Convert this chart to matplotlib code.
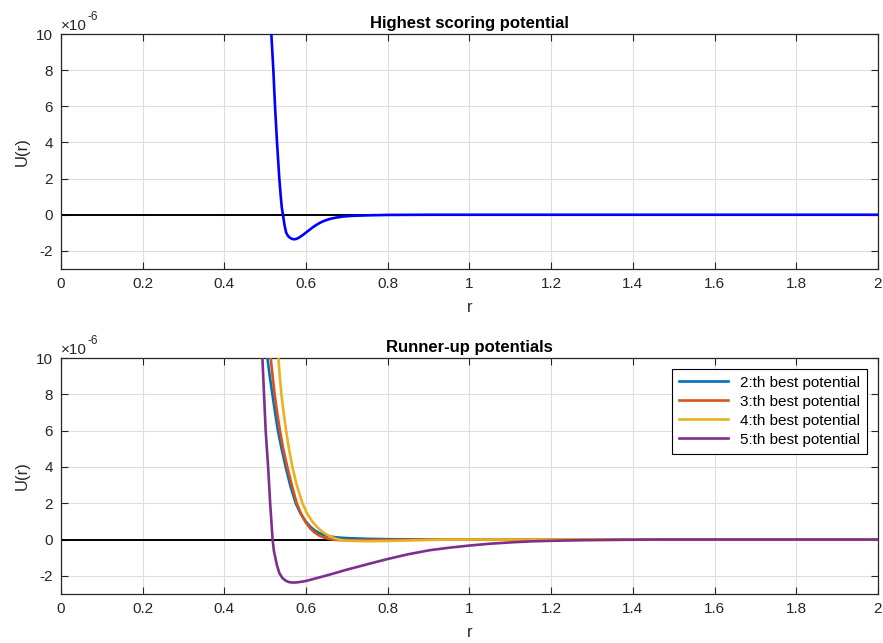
#!/usr/bin/env python3
"""
Potenciais: melhor potencial e os seguintes (estilo MATLAB)
"""

import matplotlib
matplotlib.use("Agg")
import matplotlib.pyplot as plt

ESCALA = 1e-6

# melhor potencial (valores em unidades de 1e-6)
r_melhor = [0.512, 0.5149, 0.5198, 0.5239, 0.5288, 0.5344, 0.538, 0.5405, 0.544,
            0.547, 0.551, 0.555, 0.559, 0.565, 0.571, 0.577, 0.583, 0.592, 0.600,
            0.608, 0.616, 0.624, 0.632, 0.640, 0.649, 0.660, 0.673, 0.690, 0.714,
            0.755, 0.800, 0.900, 1.000, 1.500, 2.000]
u_melhor = [11.0, 10.0, 8.0, 6.0, 4.0, 2.0, 1.0, 0.4, -0.1,
            -0.55, -0.98, -1.15, -1.25, -1.33, -1.36, -1.33, -1.26, -1.12, -0.98,
            -0.84, -0.70, -0.58, -0.47, -0.38, -0.30, -0.22, -0.16, -0.10, -0.06,
            -0.03, -0.01, 0.0, 0.0, 0.0, 0.0]

# potenciais seguintes
r_2 = [0.5035, 0.5053, 0.511, 0.5175, 0.524, 0.531, 0.540, 0.550, 0.561, 0.5746,
       0.586, 0.599, 0.610, 0.620, 0.632, 0.644, 0.660, 0.680, 0.700, 0.750,
       0.800, 0.900, 1.000, 1.500, 2.000]
u_2 = [11.0, 10.0, 9.0, 8.0, 7.0, 6.0, 5.0, 4.0, 3.0, 2.0,
       1.45, 1.0, 0.72, 0.52, 0.36, 0.25, 0.16, 0.11, 0.08, 0.04,
       0.02, 0.005, 0.0, 0.0, 0.0]

r_3 = [0.511, 0.5134, 0.518, 0.523, 0.529, 0.536, 0.544, 0.554, 0.565, 0.577,
       0.588, 0.599, 0.610, 0.620, 0.632, 0.645, 0.655, 0.665, 0.680, 0.700,
       0.750, 0.800, 0.900, 1.000, 1.500, 2.000]
u_3 = [11.0, 10.0, 9.0, 8.0, 7.0, 6.0, 5.0, 4.0, 3.0, 2.0,
       1.4, 0.95, 0.62, 0.40, 0.22, 0.10, 0.04, 0.0, -0.03, -0.04,
       -0.03, -0.02, -0.01, 0.0, 0.0, 0.0]

r_4 = [0.529, 0.532, 0.5355, 0.5395, 0.545, 0.551, 0.558, 0.5665, 0.577, 0.591,
       0.602, 0.615, 0.627, 0.640, 0.650, 0.660, 0.670, 0.680, 0.690, 0.700,
       0.720, 0.750, 0.800, 0.850, 0.900, 0.950, 1.500, 2.000]
u_4 = [11.0, 10.0, 9.0, 8.0, 7.0, 6.0, 5.0, 4.0, 3.0, 2.0,
       1.45, 1.0, 0.68, 0.43, 0.28, 0.16, 0.07, 0.0, -0.04, -0.06,
       -0.08, -0.09, -0.08, -0.05, -0.02, 0.0, 0.0, 0.0]

r_5 = [0.491, 0.493, 0.497, 0.501, 0.507, 0.512, 0.515, 0.518, 0.521, 0.5246,
       0.529, 0.5346, 0.542, 0.551, 0.559, 0.567, 0.578, 0.590, 0.600, 0.625,
       0.650, 0.675, 0.698, 0.750, 0.800, 0.850, 0.902, 0.950, 1.000, 1.050,
       1.106, 1.150, 1.200, 1.270, 1.350, 1.450, 2.000]
u_5 = [11.0, 10.0, 8.0, 6.0, 4.0, 2.0, 1.0, 0.0, -0.6, -1.0,
       -1.45, -1.85, -2.12, -2.28, -2.35, -2.37, -2.36, -2.32, -2.28, -2.13,
       -1.98, -1.82, -1.67, -1.36, -1.07, -0.81, -0.59, -0.45, -0.33, -0.23,
       -0.15, -0.10, -0.07, -0.04, -0.02, 0.0, 0.0]

legenda = ["2:th best potential", "3:th best potential",
           "4:th best potential", "5:th best potential"]
cores = ["#0072BD", "#D95319", "#EDB120", "#7E2F8E"]

x_ticks = [0, 0.2, 0.4, 0.6, 0.8, 1.0, 1.2, 1.4, 1.6, 1.8, 2.0]
x_labels = ["0", "0.2", "0.4", "0.6", "0.8", "1", "1.2", "1.4", "1.6", "1.8", "2"]
y_ticks = [-2, 0, 2, 4, 6, 8, 10]

plt.rcParams["font.family"] = ["Liberation Sans", "DejaVu Sans"]
plt.rcParams["axes.unicode_minus"] = False
plt.rcParams["font.size"] = 10
plt.rcParams["lines.solid_joinstyle"] = "round"


def escala(vals):
    return [v * ESCALA for v in vals]


def estilo_matlab(ax, titulo):
    cinza = "#262626"
    ax.set_xlim(0, 2)
    ax.set_ylim(-3 * ESCALA, 10 * ESCALA)
    ax.set_xticks(x_ticks)
    ax.set_xticklabels(x_labels)
    ax.set_yticks(escala(y_ticks))
    ax.set_yticklabels([str(v) for v in y_ticks])
    ax.grid(True, color="#dfdfdf", linewidth=0.8)
    ax.set_axisbelow(True)
    ax.tick_params(direction="in", top=True, right=True, length=5,
                   color=cinza, labelcolor=cinza, labelsize=11, pad=6)
    for s in ax.spines.values():
        s.set_color(cinza)
        s.set_linewidth(0.9)
    ax.set_xlabel("r", fontsize=12, color=cinza, labelpad=6)
    ax.set_ylabel("U(r)", fontsize=12, color=cinza, labelpad=4)
    ax.set_title(titulo, fontsize=12, fontweight="bold", pad=4)
    # multiplicador no canto, com hifen como no MATLAB
    ax.text(0.0, 1.004, "\u00d710", transform=ax.transAxes,
            fontsize=11, color=cinza, va="bottom", ha="left")
    ax.annotate("-6", xy=(0.0, 1.004), xycoords="axes fraction",
                xytext=(19, 7), textcoords="offset points",
                fontsize=8.5, color=cinza, va="bottom", ha="left")
    ax.plot([0, 2], [0, 0], color="black", linewidth=1.4, zorder=2)


fig = plt.figure(figsize=(8.83, 6.43), dpi=100)
ax1 = fig.add_axes([0.0691, 0.5817, 0.9252, 0.3654])
ax2 = fig.add_axes([0.0691, 0.0762, 0.9252, 0.3670])

estilo_matlab(ax1, "Highest scoring potential")
ax1.plot(r_melhor, escala(u_melhor), color="blue", linewidth=1.9, zorder=3)

estilo_matlab(ax2, "Runner-up potentials")
series = [(r_2, u_2), (r_3, u_3), (r_4, u_4), (r_5, u_5)]
for (rr, uu), cor, nome in zip(series, cores, legenda):
    ax2.plot(rr, escala(uu), color=cor, linewidth=1.9, label=nome, zorder=3)

leg = ax2.legend(loc="upper right", fontsize=11, fancybox=False,
                 framealpha=1, edgecolor="black", borderaxespad=0.7,
                 handlelength=3.2, labelspacing=0.33, borderpad=0.45)
leg.get_frame().set_linewidth(0.8)

plt.savefig("out.png", dpi=100)
